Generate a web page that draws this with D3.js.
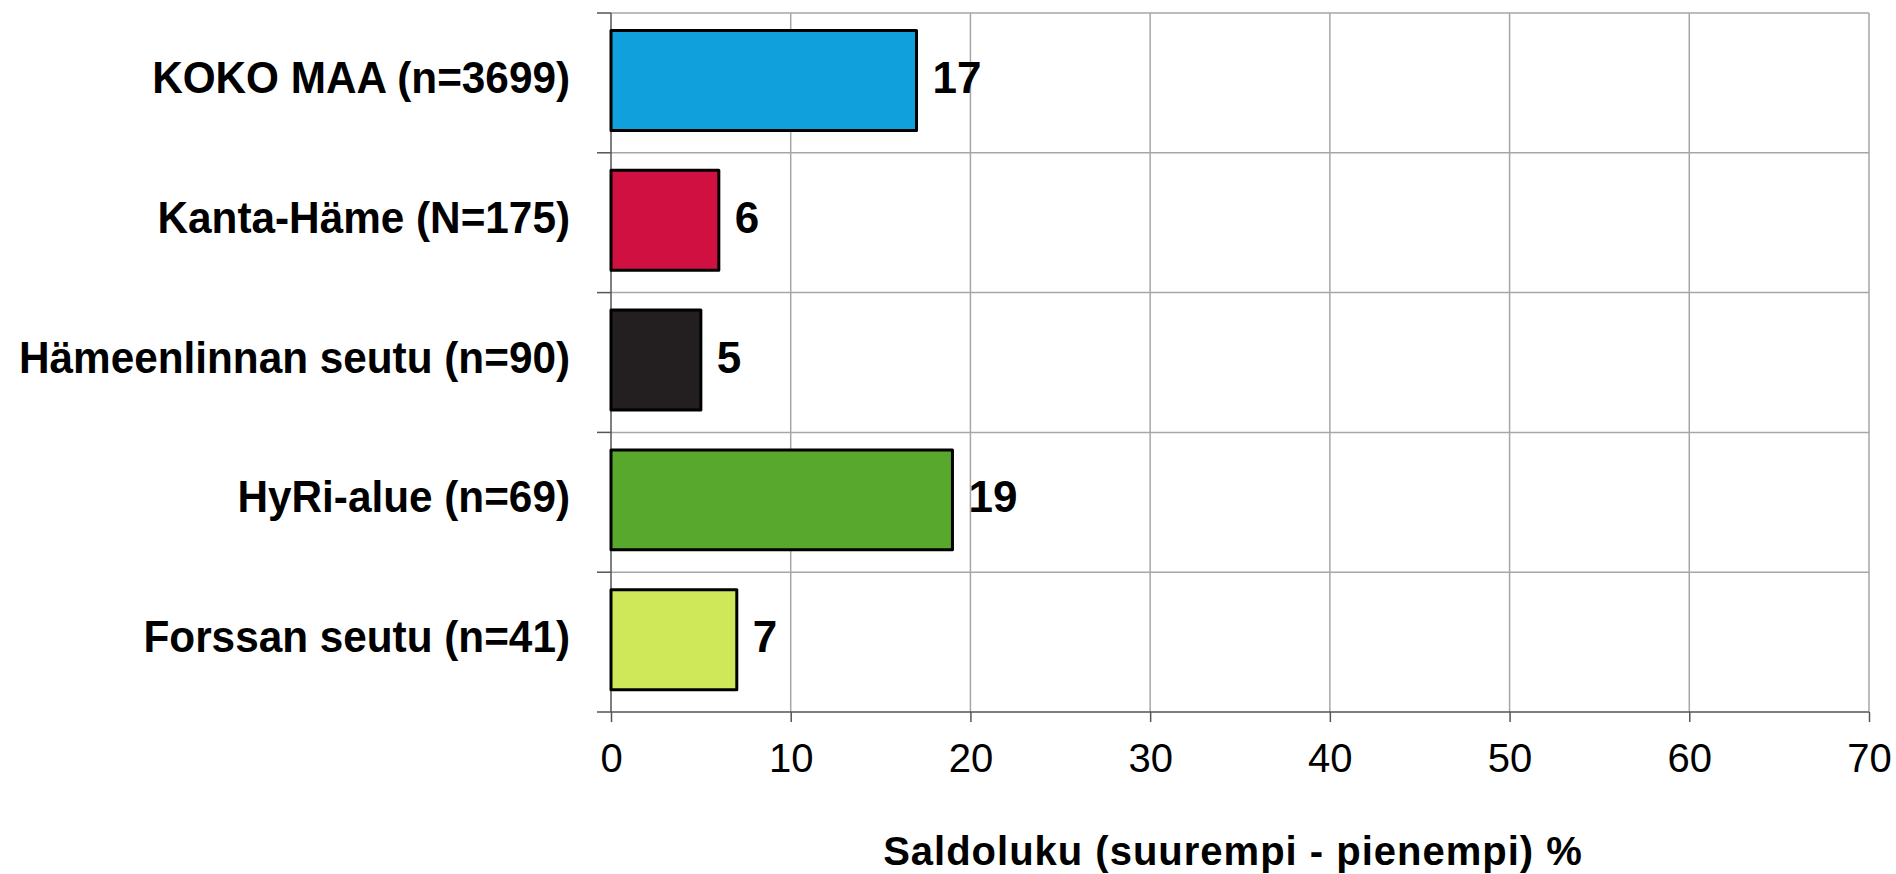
<!DOCTYPE html>
<html>
<head>
<meta charset="utf-8">
<script src="https://cdn.jsdelivr.net/npm/d3@7"></script>
<style>
  body { margin: 0; background: #fff; }
  text { font-family: "Liberation Sans", Arial, sans-serif; fill: #000; }
  .grid line { stroke: #a6a6a6; stroke-width: 1.5; }
  .axis path, .axis line { stroke: #555; stroke-width: 1.5; }
</style>
</head>
<body>
<svg></svg>
<script>
const CHART_SIZE = { width: 1896, height: 874 };
const MARGIN = { left: 611, right: 27, top: 13, bottom: 162 };
const HEIGHT = CHART_SIZE.height - MARGIN.top - MARGIN.bottom;
const WIDTH = CHART_SIZE.width - MARGIN.left - MARGIN.right;

const categories = [
  'KOKO MAA (n=3699)',
  'Kanta-Häme (N=175)',
  'Hämeenlinnan seutu (n=90)',
  'HyRi-alue (n=69)',
  'Forssan seutu (n=41)'
];
const values = [17, 6, 5, 19, 7];
const colors = ['#10a0db', '#d01040', '#231f20', '#58a82e', '#cfe85a'];
const xTicks = [0, 10, 20, 30, 40, 50, 60, 70];
const xTitle = 'Saldoluku (suurempi - pienempi) %';

const svg = d3
  .select('svg')
  .attr('width', CHART_SIZE.width)
  .attr('height', CHART_SIZE.height);

const g = svg
  .append('g')
  .attr('transform', `translate(${MARGIN.left},${MARGIN.top})`);

const x = d3.scaleLinear().domain([0, 70]).range([0, WIDTH]);
const y = d3.scaleBand().domain(categories).range([0, HEIGHT]).padding(0);
const step = y.step();

// vertical grid
g.append('g')
  .attr('class', 'grid')
  .selectAll('line')
  .data(xTicks.slice(1))
  .join('line')
  .attr('x1', d => x(d))
  .attr('x2', d => x(d))
  .attr('y1', 0)
  .attr('y2', HEIGHT);

// horizontal grid at band edges
g.append('g')
  .attr('class', 'grid')
  .selectAll('line')
  .data(categories)
  .join('line')
  .attr('x1', 0)
  .attr('x2', WIDTH)
  .attr('y1', d => y(d))
  .attr('y2', d => y(d));

// y axis: line + ticks at band edges
const yAxis = g.append('g').attr('class', 'axis');
yAxis.append('line').attr('x1', 0).attr('x2', 0).attr('y1', 0).attr('y2', HEIGHT);
yAxis
  .selectAll('.tk')
  .data(categories)
  .join('line')
  .attr('class', 'tk')
  .attr('x1', -14)
  .attr('x2', 0)
  .attr('y1', d => y(d))
  .attr('y2', d => y(d));

// x axis
const xAxis = g
  .append('g')
  .attr('class', 'axis')
  .attr('transform', `translate(0,${HEIGHT})`)
  .call(d3.axisBottom(x).tickValues(xTicks).tickSize(10).tickPadding(22).tickSizeOuter(0));
xAxis.select('.domain').attr('d', `M-14,0H${WIDTH}`);
xAxis.selectAll('text')
  .style('font-size', '40px')
  .attr('fill', '#000');

// bars
g.selectAll('.bar')
  .data(values)
  .join('rect')
  .attr('class', 'bar')
  .attr('x', x(0))
  .attr('y', (d, i) => y(categories[i]) + step * 0.125)
  .attr('width', d => x(d) - x(0))
  .attr('height', step * 0.715)
  .attr('fill', (d, i) => colors[i])
  .attr('stroke', '#000')
  .attr('stroke-width', 3)
  .attr('stroke-linejoin', 'round');

// value labels
g.selectAll('.val')
  .data(values)
  .join('text')
  .attr('class', 'val')
  .attr('x', d => x(d) + 16)
  .attr('y', (d, i) => y(categories[i]) + 80)
  .style('font-size', '44px')
  .style('font-weight', 'bold')
  .text(d => d);

// category labels
g.selectAll('.cat')
  .data(categories)
  .join('text')
  .attr('class', 'cat')
  .attr('text-anchor', 'end')
  .attr('transform', d => `translate(-41,${y(d) + 80}) scale(0.94,1)`)
  .style('font-size', '45px')
  .style('font-weight', 'bold')
  .text(d => d);

// x title
g.append('text')
  .attr('x', WIDTH / 2 - 7)
  .attr('y', HEIGHT + 153)
  .attr('text-anchor', 'middle')
  .style('font-size', '40px')
  .style('font-weight', 'bold')
  .style('letter-spacing', '1px')
  .text(xTitle);
</script>
</body>
</html>
